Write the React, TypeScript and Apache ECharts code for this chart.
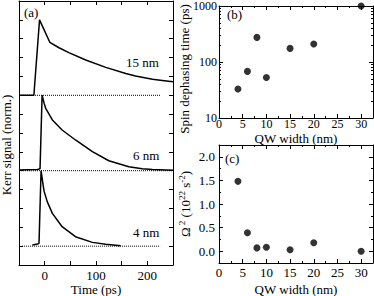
import React, { useEffect, useRef } from "react";
import * as echarts from "echarts";

// ---- Panel (a): Kerr traces (time in ps, normalized signal with offsets) ----
const trace15T = [-50, -21, -10, 10, 28, 47, 80, 119, 158, 177, 210, 229, 250];
const trace15V = [9, 9, 13, 11.81, 11.52, 11.26, 10.87, 10.48, 10.16, 10.02, 9.85, 9.79, 9.72];
const trace6T = [-50, -14, -9, -5, -1, 2, 15, 34, 60, 93, 125, 164, 190, 210, 250];
const trace6V = [5.04, 5.06, 5.1, 9.0, 8.57, 8.31, 7.69, 7.16, 6.63, 6.01, 5.53, 5.21, 5.11, 5.07, 5.02];
const trace4T = [-24, -14, -11, -7, -3, -1, 5, 15, 34, 60, 93, 119, 148];
const trace4V = [1.06, 1.11, 1.15, 5.0, 4.24, 3.9, 3.36, 2.74, 2.03, 1.5, 1.2, 1.1, 1.02];
const baseline15T = [-50, 225];
const baseline15V = [9, 9];
const baseline6T = [-50, 250];
const baseline6V = [5, 5];
const baseline4T = [-44, 225];
const baseline4V = [1, 1];
const traceLabels = ["15 nm", "6 nm", "4 nm"];
const timeTickLabels = [0, 100, 200];

// ---- Panels (b) and (c): vs QW width ----
const qwWidth = [4, 6, 8, 10, 15, 20, 30];
const spinTime = [33, 68, 275, 53, 175, 210, 1000];
const omega2 = [1.48, 0.39, 0.07, 0.085, 0.03, 0.18, 0.0];
const omegaTickValues = [0, 0.5, 1.0, 1.5, 2.0];
const logMinorValues = [20, 30, 40, 50, 60, 70, 80, 90, 200, 300, 400, 500, 600, 700, 800, 900];

const FONT = "Liberation Serif";
const BLACK = "#000";

const zip = (a: number[], b: number[]) => a.map((v, i) => [v, b[i]]);

const textStyle = { color: BLACK, fontFamily: FONT, fontSize: 13 };

function frameAxis(extra: any) {
  return {
    type: "value",
    nameMoveOverlap: false,
    axisLine: { show: true, onZero: false, lineStyle: { color: BLACK, width: 1 } },
    axisTick: { show: true, inside: true, length: 4, lineStyle: { color: BLACK, width: 1 } },
    axisLabel: { show: false },
    splitLine: { show: false },
    ...extra,
  };
}

export default function App() {
  const ref = useRef<HTMLDivElement>(null);
  useEffect(() => {
    if (!ref.current) return;
    const chart = echarts.init(ref.current, null, { renderer: "svg" });

    const xAxes: any[] = [
      // (a) bottom
      frameAxis({
        gridIndex: 0, position: "bottom", min: -50, max: 250, interval: 50,
        axisLabel: {
          show: true, ...textStyle, margin: 4,
          formatter: (v: number) => (timeTickLabels.includes(v) ? String(v) : ""),
        },
        name: "Time (ps)", nameLocation: "middle", nameGap: 18, nameTextStyle: textStyle,
      }),
      // (a) top
      frameAxis({ gridIndex: 0, position: "top", min: -50, max: 250, interval: 50 }),
      // (b) bottom
      frameAxis({
        gridIndex: 1, position: "bottom", min: 0, max: 32.5, interval: 5,
        minorTick: { show: true, splitNumber: 2, length: 2, lineStyle: { color: BLACK } },
        axisLabel: {
          show: true, ...textStyle, fontSize: 12, lineHeight: 12, margin: 0,
          formatter: (v: number) => (v % 5 === 0 ? String(v) : ""),
        },
        name: "QW width (nm)", nameLocation: "middle", nameGap: 13,
        nameTextStyle: { ...textStyle, lineHeight: 14 },
      }),
      // (b) top
      frameAxis({
        gridIndex: 1, position: "top", min: 0, max: 32.5, interval: 5,
        minorTick: { show: true, splitNumber: 2, length: 2, lineStyle: { color: BLACK } },
      }),
      // (c) bottom
      frameAxis({
        gridIndex: 2, position: "bottom", min: 0, max: 32.5, interval: 5,
        minorTick: { show: true, splitNumber: 2, length: 2, lineStyle: { color: BLACK } },
        axisLabel: {
          show: true, ...textStyle, margin: 3,
          formatter: (v: number) => (v % 5 === 0 ? String(v) : ""),
        },
        name: "QW width (nm)", nameLocation: "middle", nameGap: 20, nameTextStyle: textStyle,
      }),
      // (c) top
      frameAxis({
        gridIndex: 2, position: "top", min: 0, max: 32.5, interval: 5,
        minorTick: { show: true, splitNumber: 2, length: 2, lineStyle: { color: BLACK } },
      }),
    ];

    const minorLog = logMinorValues.map((v) => Math.log10(v));
    const yAxes: any[] = [
      // 0 (a) left
      frameAxis({
        gridIndex: 0, position: "left", min: 0, max: 14, interval: 1,
        name: "Kerr signal (norm.)", nameLocation: "middle", nameGap: 6,
        nameTextStyle: { ...textStyle, padding: [0, 24, 0, 0] },
      }),
      // 1 (a) right
      frameAxis({ gridIndex: 0, position: "right", min: 0, max: 14, interval: 1 }),
      // 2 (b) left log
      frameAxis({
        gridIndex: 1, position: "left", type: "log", logBase: 10, min: 10, max: 1000,
        axisLabel: { show: true, ...textStyle, fontSize: 12, margin: 2, formatter: (v: number) => String(Math.round(v)) },
        name: "Spin dephasing time (ps)", nameLocation: "middle", nameGap: 28,
        nameTextStyle: { ...textStyle, padding: [0, 14, 0, 0] },
      }),
      // 3 (b) right log
      frameAxis({ gridIndex: 1, position: "right", type: "log", logBase: 10, min: 10, max: 1000 }),
      // 4 (b) left minor log ticks (log10 space)
      frameAxis({
        gridIndex: 1, position: "left", min: 1, max: 3,
        axisLine: { show: false, onZero: false },
        axisTick: { show: true, inside: true, length: 2, customValues: minorLog, lineStyle: { color: BLACK } },
      }),
      // 5 (b) right minor log ticks
      frameAxis({
        gridIndex: 1, position: "right", min: 1, max: 3,
        axisLine: { show: false, onZero: false },
        axisTick: { show: true, inside: true, length: 2, customValues: minorLog, lineStyle: { color: BLACK } },
      }),
      // 6 (c) left
      frameAxis({
        gridIndex: 2, position: "left", min: -0.25, max: 2.25,
        axisTick: { show: true, inside: true, length: 4, customValues: omegaTickValues, lineStyle: { color: BLACK } },
        axisLabel: {
          show: true, ...textStyle, margin: 4, customValues: omegaTickValues,
          formatter: (v: number) => v.toFixed(1),
        },
        name: "{b|Ω}{s| 2}{b| (10}{s|22}{b| s}{s|-2}{b|)}",
        nameLocation: "middle", nameGap: 26,
        nameTextStyle: {
          ...textStyle,
          rich: {
            b: { fontFamily: FONT, fontSize: 13, color: BLACK, lineHeight: 16 },
            s: { fontFamily: FONT, fontSize: 9, color: BLACK, lineHeight: 8, verticalAlign: "top" },
          },
        },
      }),
      // 7 (c) right
      frameAxis({
        gridIndex: 2, position: "right", min: -0.25, max: 2.25,
        axisTick: { show: true, inside: true, length: 4, customValues: omegaTickValues, lineStyle: { color: BLACK } },
      }),
      // 8 (c) left minor
      frameAxis({
        gridIndex: 2, position: "left", min: -0.25, max: 2.25, interval: 0.25,
        axisLine: { show: false, onZero: false },
        axisTick: { show: true, inside: true, length: 2, lineStyle: { color: BLACK } },
      }),
      // 9 (c) right minor
      frameAxis({
        gridIndex: 2, position: "right", min: -0.25, max: 2.25, interval: 0.25,
        axisLine: { show: false, onZero: false },
        axisTick: { show: true, inside: true, length: 2, lineStyle: { color: BLACK } },
      }),
    ];

    const traceSeries = (t: number[], v: number[]) => ({
      type: "line", xAxisIndex: 0, yAxisIndex: 0, data: zip(t, v),
      showSymbol: false, symbol: "none", lineStyle: { color: BLACK, width: 1.5 }, z: 3,
    });
    const baseSeries = (t: number[], v: number[]) => ({
      type: "line", xAxisIndex: 0, yAxisIndex: 0, data: zip(t, v),
      showSymbol: false, symbol: "none", lineStyle: { color: BLACK, width: 1, type: [1, 1] }, z: 2,
    });

    const option: any = {
      animation: false,
      backgroundColor: "#fff",
      grid: [
        { left: 19, top: 1, width: 154, height: 264, outerBoundsMode: "none", containLabel: false },
        { left: 219, top: 6, width: 154, height: 112, outerBoundsMode: "none", containLabel: false },
        { left: 219, top: 145, width: 154, height: 118, outerBoundsMode: "none", containLabel: false },
      ],
      xAxis: xAxes,
      yAxis: yAxes,
      series: [
        baseSeries(baseline15T, baseline15V),
        baseSeries(baseline6T, baseline6V),
        baseSeries(baseline4T, baseline4V),
        traceSeries(trace15T, trace15V),
        traceSeries(trace6T, trace6V),
        traceSeries(trace4T, trace4V),
        {
          type: "scatter", xAxisIndex: 2, yAxisIndex: 2, data: zip(qwWidth, spinTime),
          symbol: "circle", symbolSize: 7, itemStyle: { color: BLACK }, clip: false,
        },
        {
          type: "scatter", xAxisIndex: 4, yAxisIndex: 6, data: zip(qwWidth, omega2),
          symbol: "circle", symbolSize: 7, itemStyle: { color: BLACK }, clip: false,
        },
      ],
      graphic: [
        { type: "text", x: 24, y: 12, style: { text: "(a)", ...gText() } },
        { type: "text", x: 227, y: 14, style: { text: "(b)", ...gText() } },
        { type: "text", x: 225, y: 158, style: { text: "(c)", ...gText() } },
        { type: "text", x: 126, y: 62, style: { text: traceLabels[0], ...gText() } },
        { type: "text", x: 133, y: 155, style: { text: traceLabels[1], ...gText() } },
        { type: "text", x: 133, y: 232, style: { text: traceLabels[2], ...gText() } },
      ],
    };
    chart.setOption(option);
    return () => chart.dispose();
  }, []);

  return <div ref={ref} style={{ width: 374, height: 296, position: "absolute", left: 0, top: 0 }} />;
}

function gText() {
  return { fill: BLACK, fontFamily: FONT, fontSize: 13, verticalAlign: "middle" };
}
